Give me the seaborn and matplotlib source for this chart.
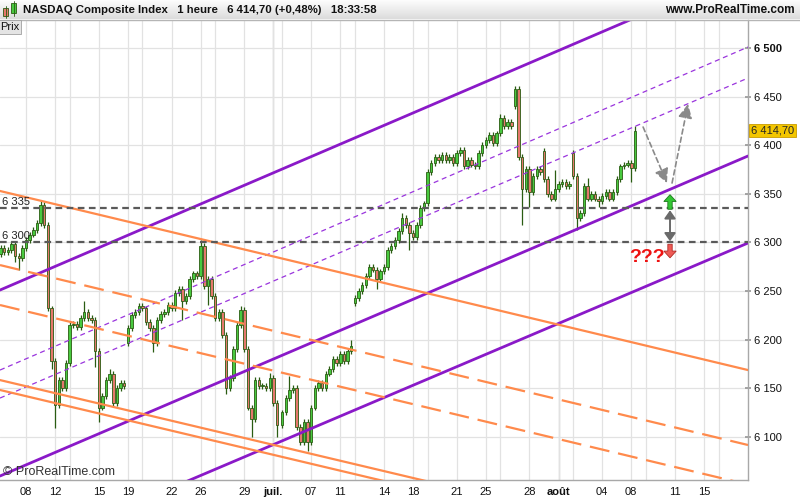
import numpy as np
import pandas as pd
import matplotlib
matplotlib.use('Agg')
import matplotlib.pyplot as plt
import matplotlib.transforms as mtransforms
from matplotlib.patches import FancyArrow, FancyArrowPatch, Rectangle
from matplotlib.lines import Line2D
import seaborn as sns

sns.set_theme(style='white')
plt.rcParams['font.family'] = ['Liberation Sans', 'DejaVu Sans']

# calendrier des séances (mois-jour), 2017
sessions = ['06-06', '06-07', '06-08', '06-09', '06-12', '06-13', '06-14', '06-15', '06-16',
            '06-19', '06-20', '06-21', '06-22', '06-23', '06-26', '06-27', '06-28', '06-29', '06-30',
            '07-03', '07-05', '07-06', '07-07', '07-10', '07-11', '07-12', '07-13', '07-14',
            '07-17', '07-18', '07-19', '07-20', '07-21', '07-24', '07-25', '07-26', '07-27', '07-28',
            '07-31', '08-01', '08-02', '08-03', '08-04', '08-07', '08-08',
            '08-09', '08-10', '08-11', '08-14', '08-15', '08-16', '08-17']
short_sessions = {'07-03': 0.6}
last_session = '08-08'
slot_count = {'06-06': 3, '07-03': 2, '08-08': 2}
first_slot = {'06-06': 1}

tick_labels = {'06-08': '08', '06-12': '12', '06-15': '15', '06-19': '19', '06-22': '22',
               '06-26': '26', '06-29': '29', '07-03': 'juil.', '07-07': '07', '07-11': '11',
               '07-14': '14', '07-18': '18', '07-21': '21', '07-25': '25', '07-28': '28',
               '08-01': 'août', '08-04': '04', '08-08': '08', '08-11': '11', '08-15': '15'}
minor_grid = ['06-13', '06-20', '06-27', '07-05', '07-12', '07-19', '07-26', '08-02', '08-09', '08-16']

# clôtures (4 bougies par séance)
closes = [
    6294, 6290, 6292,               # 06-06
    6298, 6286, 6284, 6294,         # 06-07
    6302, 6308, 6313, 6320,         # 06-08
    6338, 6318, 6232, 6178,         # 06-09
    6133, 6158, 6150, 6176,         # 06-12
    6215, 6216, 6213, 6222,         # 06-13
    6228, 6222, 6220, 6188,         # 06-14
    6130, 6142, 6158, 6165,         # 06-15
    6135, 6150, 6155, 6152,         # 06-16
    6212, 6225, 6228, 6235,         # 06-19
    6232, 6218, 6212, 6196,         # 06-20
    6220, 6226, 6228, 6236,         # 06-21
    6232, 6248, 6252, 6240,         # 06-22
    6245, 6262, 6268, 6265,         # 06-23
    6296, 6255, 6262, 6245,         # 06-26
    6222, 6228, 6205, 6150,         # 06-27
    6160, 6190, 6215, 6230,         # 06-28
    6190, 6130, 6118, 6158,         # 06-29
    6152, 6152, 6150, 6160,         # 06-30
    6135, 6112,                     # 07-03
    6125, 6140, 6148, 6150,         # 07-05
    6110, 6095, 6115, 6095,         # 07-06
    6130, 6150, 6155, 6150,         # 07-07
    6165, 6170, 6180, 6176,         # 07-10
    6185, 6178, 6188, 6193,         # 07-11
    6243, 6250, 6256, 6265,         # 07-12
    6275, 6272, 6262, 6270,         # 07-13
    6275, 6292, 6296, 6302,         # 07-14
    6312, 6325, 6318, 6310,         # 07-17
    6305, 6318, 6335, 6340,         # 07-18
    6372, 6382, 6388, 6385,         # 07-19
    6390, 6385, 6388, 6382,         # 07-20
    6392, 6395, 6378, 6385,         # 07-21
    6380, 6378, 6392, 6400,         # 07-24
    6405, 6410, 6402, 6412,         # 07-25
    6428, 6420, 6424, 6420,         # 07-26
    6458, 6388, 6355, 6375,         # 07-27
    6352, 6368, 6375, 6372,         # 07-28
    6365, 6350, 6345, 6355,         # 07-31
    6360, 6362, 6358, 6360,         # 08-01
    6368, 6325, 6330, 6358,         # 08-02
    6345, 6350, 6345, 6342,         # 08-03
    6348, 6352, 6345, 6352,         # 08-04
    6365, 6378, 6380, 6382,         # 08-07
    6376, 6414.70,                  # 08-08
]
first_open = 6288
gap_opens = {('06-19', 0): 6196, ('07-12', 0): 6238, ('07-27', 0): 6440,
             ('07-31', 0): 6394, ('08-02', 0): 6392}
long_highs = {('06-09', 0): 6343, ('06-14', 0): 6240, ('06-15', 3): 6170, ('06-26', 0): 6302,
              ('06-28', 3): 6234, ('06-30', 3): 6166, ('07-05', 2): 6162, ('07-11', 3): 6200,
              ('07-17', 1): 6330, ('07-26', 0): 6432, ('07-27', 0): 6461, ('07-31', 3): 6374,
              ('08-03', 0): 6366, ('08-08', 1): 6420}
long_lows = {('06-07', 1): 6280, ('06-07', 2): 6272, ('06-09', 3): 6170, ('06-12', 0): 6109,
             ('06-14', 3): 6172, ('06-15', 0): 6115, ('06-20', 3): 6187, ('06-22', 3): 6220,
             ('06-26', 2): 6236, ('06-27', 3): 6144, ('06-29', 2): 6100, ('07-03', 1): 6100,
             ('07-06', 3): 6085, ('07-12', 0): 6234, ('07-13', 2): 6252, ('07-17', 3): 6292,
             ('07-27', 2): 6318, ('07-28', 0): 6336, ('08-02', 1): 6313, ('08-03', 3): 6336,
             ('08-08', 0): 6362}

# lignes de tendance : (jour0, prix0, jour1, prix1), jour 0 = 8 juin
purple_solid = [(-1.79, 6250.9, 41.17, 6526.6), (-1.79, 6059.6, 49.62, 6388.8),
                (11.27, 6055.5, 49.62, 6299.3)]
purple_dashed = [(-1.79, 6168.6, 49.62, 6500.9), (-1.79, 6139.8, 49.62, 6469.0)]
orange_solid = [(-1.79, 6352.8, 49.62, 6168.6), (-1.79, 6158.3, 49.62, 5975.9),
                (-1.79, 6148.1, 49.62, 5965.6)]
orange_dashed = [(-1.79, 6276.6, 49.62, 6091.5), (-1.79, 6235.5, 48.32, 6055.5)]
levels = [6335, 6300]
level_labels = ['6 335', '6 300']

# scénario dessiné à droite
scenario_down = [(42.41, 6418.6), (44.05, 6361.0)]
scenario_up = [(44.40, 6361.0), (45.50, 6442.3)]
arrow_day = 44.26
green_arrow = (6334, 6349)
range_arrow = (6301, 6333)
red_arrow = (6298, 6284)
question = (42.68, 6284, '???')

last_price = 6414.70
y_ticks = [6100, 6150, 6200, 6250, 6300, 6350, 6400, 6450, 6500]

# ---- positions des séances
pos = {}
t = -2.0
for s in sessions:
    pos[s] = t
    t += short_sessions.get(s, 1.0)

rows = []
i = 0
prev = first_open
for s in sessions[:sessions.index(last_session) + 1]:
    for k in range(slot_count.get(s, 4)):
        c = closes[i]
        o = gap_opens.get((s, k), prev)
        h = long_highs.get((s, k), max(o, c) + 3)
        l = long_lows.get((s, k), min(o, c) - 3)
        rows.append({'x': pos[s] + (first_slot.get(s, 0) + k) / 4, 'open': o, 'close': c,
                     'high': h, 'low': l})
        prev = c
        i += 1
df = pd.DataFrame(rows)

fig = plt.figure(figsize=(8, 5), dpi=100)
fig.patch.set_facecolor('white')
ax = fig.add_axes([0, 0.04, 0.935, 0.92])
ax.set_facecolor('white')
ax.set_xlim(-1.79, 49.62)
ax.set_ylim(6055.5, 6528.7)

# grille
ax.set_xticks([pos[s] for s in tick_labels])
ax.set_xticklabels(list(tick_labels.values()))
ax.set_xticks([pos[s] for s in minor_grid], minor=True)
ax.grid(which='both', axis='x', color='#e2e2e2', lw=0.9, zorder=0)
ax.grid(which='major', axis='y', color='#e2e2e2', lw=0.9, zorder=0)
for s in ['07-03', '08-01']:
    ax.axvline(pos[s], color='#cfcfcf', lw=1.0, zorder=0)

# bougies
edge = '#2a5c12'
up = df['close'] >= df['open']
ax.vlines(df['x'], df['low'], df['high'], color=edge, lw=0.9, zorder=2)
body = (df['close'] - df['open']).abs().clip(lower=0.8)
ax.bar(df['x'], body, bottom=df[['open', 'close']].min(axis=1), width=0.17,
       color=np.where(up, '#48c93f', '#e5786c'), edgecolor=edge, linewidth=0.6, zorder=3)

# lignes
xs = np.array(ax.get_xlim())


def draw_line(seg, **kw):
    x0, p0, x1, p1 = seg
    slope = (p1 - p0) / (x1 - x0)
    sns.lineplot(x=xs, y=p0 + slope * (xs - x0), ax=ax, zorder=5, **kw)


for seg in purple_solid:
    draw_line(seg, color='#8a19c8', lw=2.0)
for seg in purple_dashed:
    draw_line(seg, color='#9a35dd', lw=0.9, linestyle=(0, (4, 3)))
for seg in orange_solid:
    draw_line(seg, color='#ff8a4c', lw=1.6)
for seg in orange_dashed:
    draw_line(seg, color='#ff8a4c', lw=1.6, linestyle=(0, (9, 4)))

for lv, lab in zip(levels, level_labels):
    ax.axhline(lv, color='#5a5a5a', lw=1.6, linestyle=(0, (3, 2)), zorder=5)
    ax.text(0.003, lv + 1.5, lab, transform=mtransforms.blended_transform_factory(ax.transAxes, ax.transData),
            fontsize=8, color='#222222', va='bottom', ha='left', zorder=6)

# scénario
for seg in (scenario_down, scenario_up):
    ax.annotate('', xy=seg[1], xytext=seg[0],
                arrowprops=dict(arrowstyle='-|>,head_length=0.7,head_width=0.35', ls=(0, (3, 2)),
                                color='#8a8a8a', lw=1.2, shrinkA=0, shrinkB=0), zorder=6)
ax.add_patch(FancyArrow(arrow_day, green_arrow[0], 0, green_arrow[1] - green_arrow[0],
                        width=0.3, head_width=0.85, head_length=7, length_includes_head=True,
                        fc='#33c633', ec='#1b7a1b', lw=0.6, zorder=7))
ax.add_patch(FancyArrow(arrow_day, red_arrow[0], 0, red_arrow[1] - red_arrow[0],
                        width=0.3, head_width=0.85, head_length=7, length_includes_head=True,
                        fc='#ee5a55', ec='#b02a25', lw=0.6, zorder=7))
ax.add_patch(FancyArrowPatch((arrow_day, range_arrow[0]), (arrow_day, range_arrow[1]),
                             arrowstyle='<|-|>,head_length=0.4,head_width=0.28', color='#6a6a6a',
                             lw=1.4, shrinkA=0, shrinkB=0, mutation_scale=12, zorder=7))
ax.text(question[0], question[1], question[2], color='#ee1111', fontsize=14,
        fontweight='bold', ha='center', va='center', zorder=7)

# axes
ax.yaxis.tick_right()
ax.set_yticks(y_ticks)
ax.set_yticklabels([f'{v:,}'.replace(',', ' ') for v in y_ticks])
ax.get_yticklabels()[-1].set_fontweight('bold')
ax.tick_params(axis='y', labelsize=8, length=4, direction='inout', color='#999999', pad=2,
               labelcolor='#111111')
ax.tick_params(axis='x', which='both', labelsize=8, length=0, pad=5, labelcolor='#111111')
for lab in ax.get_xticklabels():
    if lab.get_text() in ('juil.', 'août'):
        lab.set_fontweight('bold')
for side in ['top', 'left']:
    ax.spines[side].set_visible(False)
for side in ['right', 'bottom']:
    ax.spines[side].set_color('#a8a8a8')
    ax.spines[side].set_linewidth(1.0)

ax.text(1.004, last_price, f'{last_price:,.2f}'.replace(',', ' ').replace('.', ','),
        transform=mtransforms.blended_transform_factory(ax.transAxes, ax.transData),
        fontsize=8, va='center', ha='left', clip_on=False, zorder=8,
        bbox=dict(boxstyle='square,pad=0.15', fc='#f3c600', ec='#c99c00', lw=0.6))

ax.text(0.004, 0.004, '© ProRealTime.com', transform=ax.transAxes, fontsize=9,
        color='#333333', ha='left', va='bottom', zorder=8)

# en-tête
hax = fig.add_axes([0, 1 - 19 / 500, 1, 19 / 500])
grad = np.linspace(0.99, 0.86, 50).reshape(-1, 1)
hax.imshow(np.repeat(grad, 2, axis=1), cmap='gray', vmin=0, vmax=1, aspect='auto',
           extent=[0, 800, 19, 0])
hax.set_xlim(0, 800)
hax.set_ylim(19, 0)
hax.axis('off')
hax.add_patch(Rectangle((3, 8), 5, 8, fc='#e5786c', ec=edge, lw=0.6))
hax.plot([5.5, 5.5], [6, 18], color=edge, lw=0.6)
hax.add_patch(Rectangle((11, 3), 5, 10, fc='#48c93f', ec=edge, lw=0.6))
hax.plot([13.5, 13.5], [1, 16], color=edge, lw=0.6)
hax.text(23, 10, 'NASDAQ Composite Index   1 heure   6 414,70 (+0,48%)   18:33:58',
         fontsize=8.2, fontweight='bold', va='center', ha='left', color='#111111')
hax.text(795, 10, 'www.ProRealTime.com', fontsize=8.5, fontweight='bold', va='center',
         ha='right', color='#111111')
fig.add_artist(Line2D([0, 1], [1 - 19.5 / 500] * 2, color='#b5b5b5', lw=1))

fig.text(0.0, 1 - 27 / 500, 'Prix', fontsize=8, va='center', ha='left', color='#111111',
         bbox=dict(boxstyle='square,pad=0.2', fc='#e4e4e4', ec='#a0a0a0', lw=0.6))

fig.savefig('out.png', dpi=100)
